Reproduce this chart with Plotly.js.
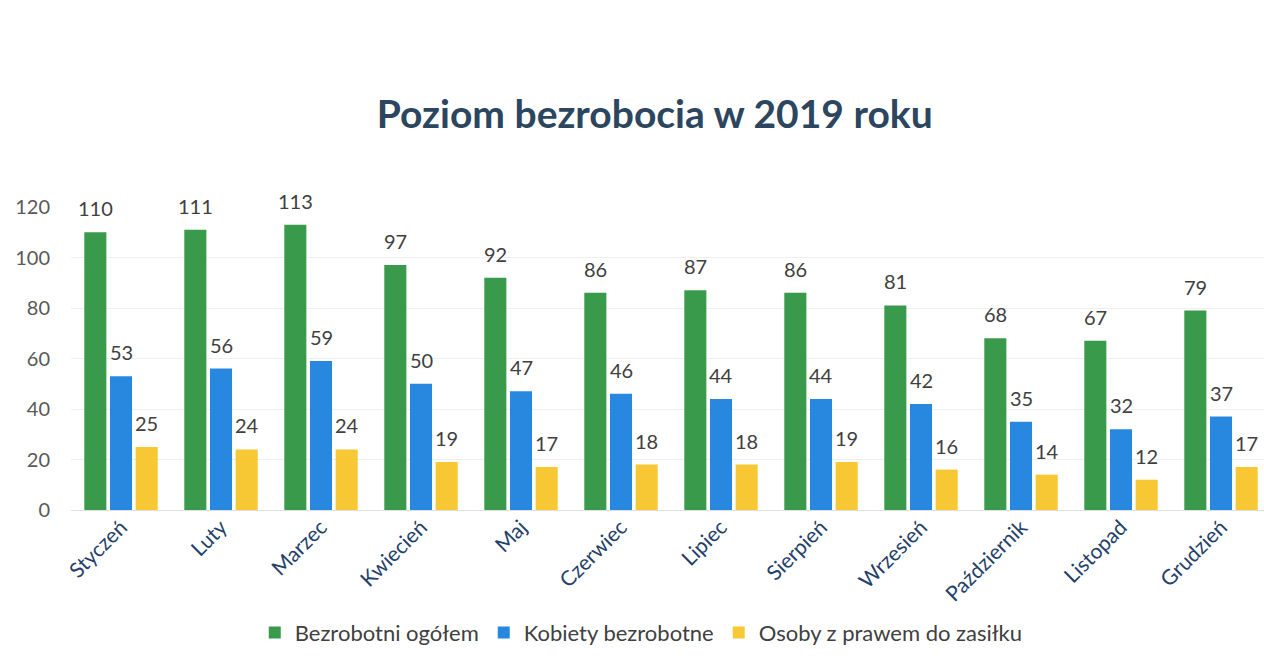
<!DOCTYPE html>
<html><head><meta charset="utf-8">
<script src="https://cdn.plot.ly/plotly-3.0.1.min.js"></script>
<style>html,body{margin:0;padding:0;background:#fff}#c{width:1264px;height:665px}</style>
</head><body><div id="c"></div>
<script>
const months = ["Styczeń","Luty","Marzec","Kwiecień","Maj","Czerwiec","Lipiec","Sierpień","Wrzesień","Październik","Listopad","Grudzień"];
const ogolem = [110,111,113,97,92,86,87,86,81,68,67,79];
const kobiety = [53,56,59,50,47,46,44,44,42,35,32,37];
const zasilek = [25,24,24,19,17,18,18,19,16,14,12,17];
const seriesNames = ["Bezrobotni ogółem","Kobiety bezrobotne","Osoby z prawem do zasiłku"];
const yTicks = [0,20,40,60,80,100,120];

const FONT = "Lato, 'Open Sans', sans-serif";
const colors = ["#3a9a4c","#2888df","#f8c834"];
const series = [ogolem,kobiety,zasilek];
const data = series.map((vals,i)=>({type:"bar", x:months, y:vals, name:seriesNames[i],
    marker:{color:colors[i]}, hoverinfo:"none"}));
// data labels above bars, offset per series within the group
const slot = 25.7;
const annotations = [];
series.forEach((vals,i)=>{
  vals.forEach((v,j)=>{
    annotations.push({x:months[j], y:v, xref:"x", yref:"y", text:String(v), showarrow:false,
      xshift:(i-1)*slot, yshift:24, yanchor:"middle", xanchor:"center",
      font:{family:FONT,size:20,color:"#404040"}});
  });
});
const layout={
  width:1264,height:665,margin:{l:71,r:0,t:207,b:155},
  paper_bgcolor:"#fff",plot_bgcolor:"#fff",
  barmode:"group",bargap:0.23,bargroupgap:0.14,
  title:{text:"<b>Poziom bezrobocia w 2019 roku</b>",x:0.518,xref:"container",y:0.828,yref:"container",yanchor:"middle",
    font:{family:FONT,size:39,color:"#2b465e"}},
  xaxis:{type:"category",range:[-0.5,11.43],tickangle:-45,showgrid:false,showline:false,ticks:"",
    tickfont:{family:FONT,size:21,color:"#24406a"}},
  yaxis:{range:[0,120],tickvals:yTicks,showgrid:true,gridcolor:"#f0f0f0",zeroline:true,zerolinecolor:"#e0e0e0",
    ticks:"",ticklabelstandoff:20,tickfont:{family:FONT,size:20,color:"#595959"}},
  annotations:annotations,
  showlegend:true,
  legend:{orientation:"h",x:0.478,xanchor:"center",y:-0.405,yanchor:"middle",
    font:{family:FONT,size:22,color:"#404040"},itemwidth:30,tracegroupgap:0}
};
Plotly.newPlot("c",data,layout,{displayModeBar:false,staticPlot:true});
</script></body></html>
